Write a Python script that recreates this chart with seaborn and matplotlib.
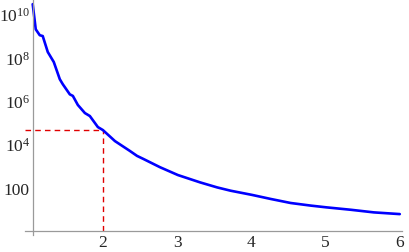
import matplotlib
matplotlib.use("Agg")
import matplotlib.pyplot as plt
import matplotlib.ticker as mticker
import seaborn as sns
import pandas as pd
import numpy as np

x_vals = [1.054, 1.095, 1.149, 1.189, 1.257, 1.338, 1.419, 1.459, 1.554, 1.595,
          1.662, 1.757, 1.824, 1.932, 2.0, 2.162, 2.36, 2.46, 2.545, 2.77,
          3.01, 3.31, 3.54, 3.72, 4.01, 4.26, 4.53, 4.80, 5.01, 5.34, 5.65, 6.0]
y_vals = [2.9e10, 2.0e9, 1.07e9, 9.8e8, 1.8e8, 6.2e7, 1.0e7, 5.9e6, 2.0e6, 1.7e6,
          6.5e5, 2.75e5, 2.0e5, 6.2e4, 4.5e4, 1.4e4, 5.0e3, 2.9e3, 2.1e3, 870,
          380, 174, 102, 72, 46, 30, 19.5, 14.8, 12.3, 9.5, 7.2, 6.0]
mark_x = 2.0
mark_y = 4.5e4
x_ticks = [2, 3, 4, 5, 6]
y_ticks = [1e2, 1e4, 1e6, 1e8, 1e10]
y_tick_labels = ["100", r"$10^{4}$", r"$10^{6}$", r"$10^{8}$", r"$10^{10}$"]

sns.set_style("white")
plt.rcParams['font.family'] = ['Liberation Serif', 'DejaVu Serif']
plt.rcParams['mathtext.fontset'] = 'custom'
plt.rcParams['mathtext.rm'] = 'Liberation Serif'
plt.rcParams['mathtext.it'] = 'Liberation Serif:italic'

fig = plt.figure(figsize=(4.09, 2.53), dpi=100)
ax = fig.add_axes([0.0611, 0.066, 0.9218, 0.934])

df = pd.DataFrame({"x": x_vals, "y": y_vals})
sns.lineplot(data=df, x="x", y="y", ax=ax, color="#0000ff", linewidth=1.9)
ax.set_yscale("log")
ax.set_xlim(0.95, 6.03)
ax.set_ylim(10 ** -0.2, 10 ** 10.7)

ax.plot([ax.get_xlim()[0], mark_x], [mark_y, mark_y], color="#e00000",
        linestyle=(0, (4, 3)), linewidth=1.0, zorder=1)
ax.plot([mark_x, mark_x], [1, mark_y], color="#e00000",
        linestyle=(0, (4, 3)), linewidth=1.0, zorder=1)

ax.set_xlabel("")
ax.set_ylabel("")
for s in ["top", "right"]:
    ax.spines[s].set_visible(False)
ax.spines["left"].set_position(("data", 1.054))
ax.spines["bottom"].set_position(("data", 1.0))
for s in ["left", "bottom"]:
    ax.spines[s].set_color("#9a9a9a")
    ax.spines[s].set_linewidth(0.9)

ax.xaxis.set_major_locator(mticker.FixedLocator(x_ticks))
ax.xaxis.set_major_formatter(mticker.FixedFormatter([str(t) for t in x_ticks]))
ax.xaxis.set_minor_locator(mticker.MultipleLocator(0.2))
ax.yaxis.set_major_locator(mticker.FixedLocator(y_ticks))
ax.yaxis.set_major_formatter(mticker.FixedFormatter(y_tick_labels))
minor_y = []
for d in range(0, 11):
    for k in range(1, 10):
        v = k * 10.0 ** d
        if v not in y_ticks:
            minor_y.append(v)
ax.yaxis.set_minor_locator(mticker.FixedLocator(minor_y))
ax.yaxis.set_minor_formatter(mticker.NullFormatter())

ax.tick_params(axis="both", which="major", direction="in", length=4, width=0.8,
               color="#9a9a9a", labelsize=12.5, pad=2)
ax.tick_params(axis="both", which="minor", direction="in", length=2, width=0.6,
               color="#9a9a9a")
ax.tick_params(axis="y", which="minor", length=1.5)

fig.savefig("out.png", dpi=100)
